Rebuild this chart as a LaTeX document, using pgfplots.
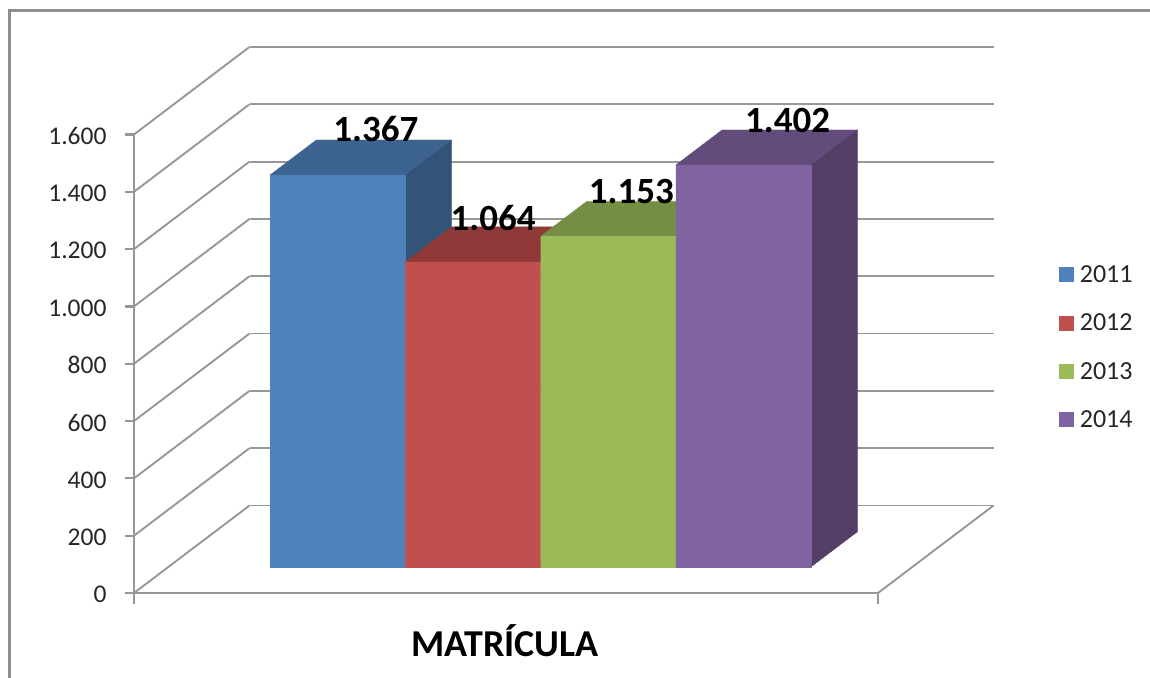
\documentclass[border=0pt]{standalone}
\usepackage{fontspec}
\setmainfont{Carlito}
\usepackage{pgfplots}
\pgfplotsset{compat=1.18}
\definecolor{gridgray}{HTML}{979797}
\definecolor{framegray}{HTML}{8E8E8E}
\definecolor{ticktext}{HTML}{262626}
\definecolor{blueF}{HTML}{4F81BD}\definecolor{blueT}{HTML}{3D6391}\definecolor{blueS}{HTML}{325479}
\definecolor{redF}{HTML}{C0504D}\definecolor{redT}{HTML}{8F3A38}\definecolor{redS}{HTML}{7F3230}
\definecolor{greenF}{HTML}{9BBB59}\definecolor{greenT}{HTML}{758E43}\definecolor{greenS}{HTML}{66793A}
\definecolor{purpleF}{HTML}{8064A2}\definecolor{purpleT}{HTML}{634C7C}\definecolor{purpleS}{HTML}{533F66}

% One solid bar: #1 left x, #2 right x, #3 value, #4 colour prefix
\newcommand{\solidbar}[4]{%
  \addplot3[forget plot,no marks,draw=#4T,line width=0.3pt,fill=#4T] coordinates {(#1,0.3,#3) (#2,0.3,#3) (#2,0.7,#3) (#1,0.7,#3) (#1,0.3,#3)};
  \addplot3[forget plot,no marks,draw=#4S,line width=0.3pt,fill=#4S] coordinates {(#2,0.3,0) (#2,0.7,0) (#2,0.7,#3) (#2,0.3,#3) (#2,0.3,0)};
  \addplot3[forget plot,no marks,draw=#4F,line width=0.3pt,fill=#4F] coordinates {(#1,0.3,0) (#2,0.3,0) (#2,0.3,#3) (#1,0.3,#3) (#1,0.3,0)};
}

\begin{document}
\begin{tikzpicture}[x=1pt,y=1pt]
\useasboundingbox (0,0) rectangle (1150,-677);
\draw[framegray,line width=2.2pt] (9.5,-680) -- (9.5,-10.5) -- (1153,-10.5);
\begin{axis}[
  at={(134pt,-593pt)},anchor=origin,
  x={(135.27pt,0pt)},y={(115.5pt,87.5pt)},z={(0pt,0.2866pt)},
  xmin=0,xmax=5.5,ymin=0,ymax=1,zmin=0,zmax=1600,
  clip=false,
  axis line style={draw=none},
  xtick=\empty,ytick=\empty,
  ztick={0,200,...,1600},
  zmajorgrids,
  major grid style={gridgray,line width=1.9pt},
  zticklabel pos=left,
  major tick length=0pt,
  /pgf/number format/.cd,1000 sep={.},assume math mode=true,
  /pgfplots/z tick label style={font=\fontsize{25.5}{28}\selectfont,text=ticktext,anchor=east,xshift=-24pt,yshift=-1.5pt},
  legend cell align=left,
  legend style={draw=none,fill=none,at={(axis description cs:1.0758,0.45)},anchor=west,
    font=\fontsize{26}{28}\selectfont,text=ticktext,row sep=30pt,inner sep=0pt,
    nodes={inner xsep=6pt,inner ysep=0pt}},
  legend image code/.code={\fill[draw=none,#1] (0pt,-7.5pt) rectangle (15pt,7.5pt);},
]
% Floor edges and axis stubs
\addplot3[forget plot,no marks,gridgray,line width=2.2pt] coordinates {(0,0,1600) (0,0,-38)};
\addplot3[forget plot,no marks,gridgray,line width=2.2pt] coordinates {(0,0,0) (5.5,0,0)};
\addplot3[forget plot,no marks,gridgray,line width=1.9pt] coordinates {(5.5,0,0) (5.5,1,0)};
\addplot3[forget plot,no marks,gridgray,line width=2.2pt] coordinates {(5.5,0,0) (5.5,0,-38)};
\addplot3[forget plot,no marks,gridgray,line width=2.2pt] coordinates {(-0.065,0,0) (0,0,0)};
\addplot3[forget plot,no marks,gridgray,line width=2.2pt] coordinates {(-0.065,0,200) (0,0,200)};
\addplot3[forget plot,no marks,gridgray,line width=2.2pt] coordinates {(-0.065,0,400) (0,0,400)};
\addplot3[forget plot,no marks,gridgray,line width=2.2pt] coordinates {(-0.065,0,600) (0,0,600)};
\addplot3[forget plot,no marks,gridgray,line width=2.2pt] coordinates {(-0.065,0,800) (0,0,800)};
\addplot3[forget plot,no marks,gridgray,line width=2.2pt] coordinates {(-0.065,0,1000) (0,0,1000)};
\addplot3[forget plot,no marks,gridgray,line width=2.2pt] coordinates {(-0.065,0,1200) (0,0,1200)};
\addplot3[forget plot,no marks,gridgray,line width=2.2pt] coordinates {(-0.065,0,1400) (0,0,1400)};
\addplot3[forget plot,no marks,gridgray,line width=2.2pt] coordinates {(-0.065,0,1600) (0,0,1600)};
% Bars, left to right so that each one covers its neighbour's hidden faces
\solidbar{0.75}{1.75}{1367}{blue}
\solidbar{1.75}{2.75}{1064}{red}
\solidbar{2.75}{3.75}{1153}{green}
\solidbar{3.75}{4.75}{1402}{purple}
% Value labels
\node[font=\fontsize{37}{40}\selectfont\bfseries,xshift=15pt,yshift=28pt] at (axis cs:1.25,0.5,1367) {1.367};
\node[font=\fontsize{37}{40}\selectfont\bfseries,xshift=-3pt,yshift=26pt] at (axis cs:2.25,0.5,1064) {1.064};
\node[font=\fontsize{37}{40}\selectfont\bfseries,yshift=27pt] at (axis cs:3.25,0.5,1153) {1.153};
\node[font=\fontsize{37}{40}\selectfont\bfseries,xshift=21pt,yshift=27pt] at (axis cs:4.25,0.5,1402) {1.402};
% Legend
\addlegendimage{fill=blueF}\addlegendentry{2011}
\addlegendimage{fill=redF}\addlegendentry{2012}
\addlegendimage{fill=greenF}\addlegendentry{2013}
\addlegendimage{fill=purpleF}\addlegendentry{2014}
\end{axis}
\node[font=\fontsize{38}{40}\selectfont\bfseries] at (505,-641) {MATRÍCULA};
\end{tikzpicture}
\end{document}
